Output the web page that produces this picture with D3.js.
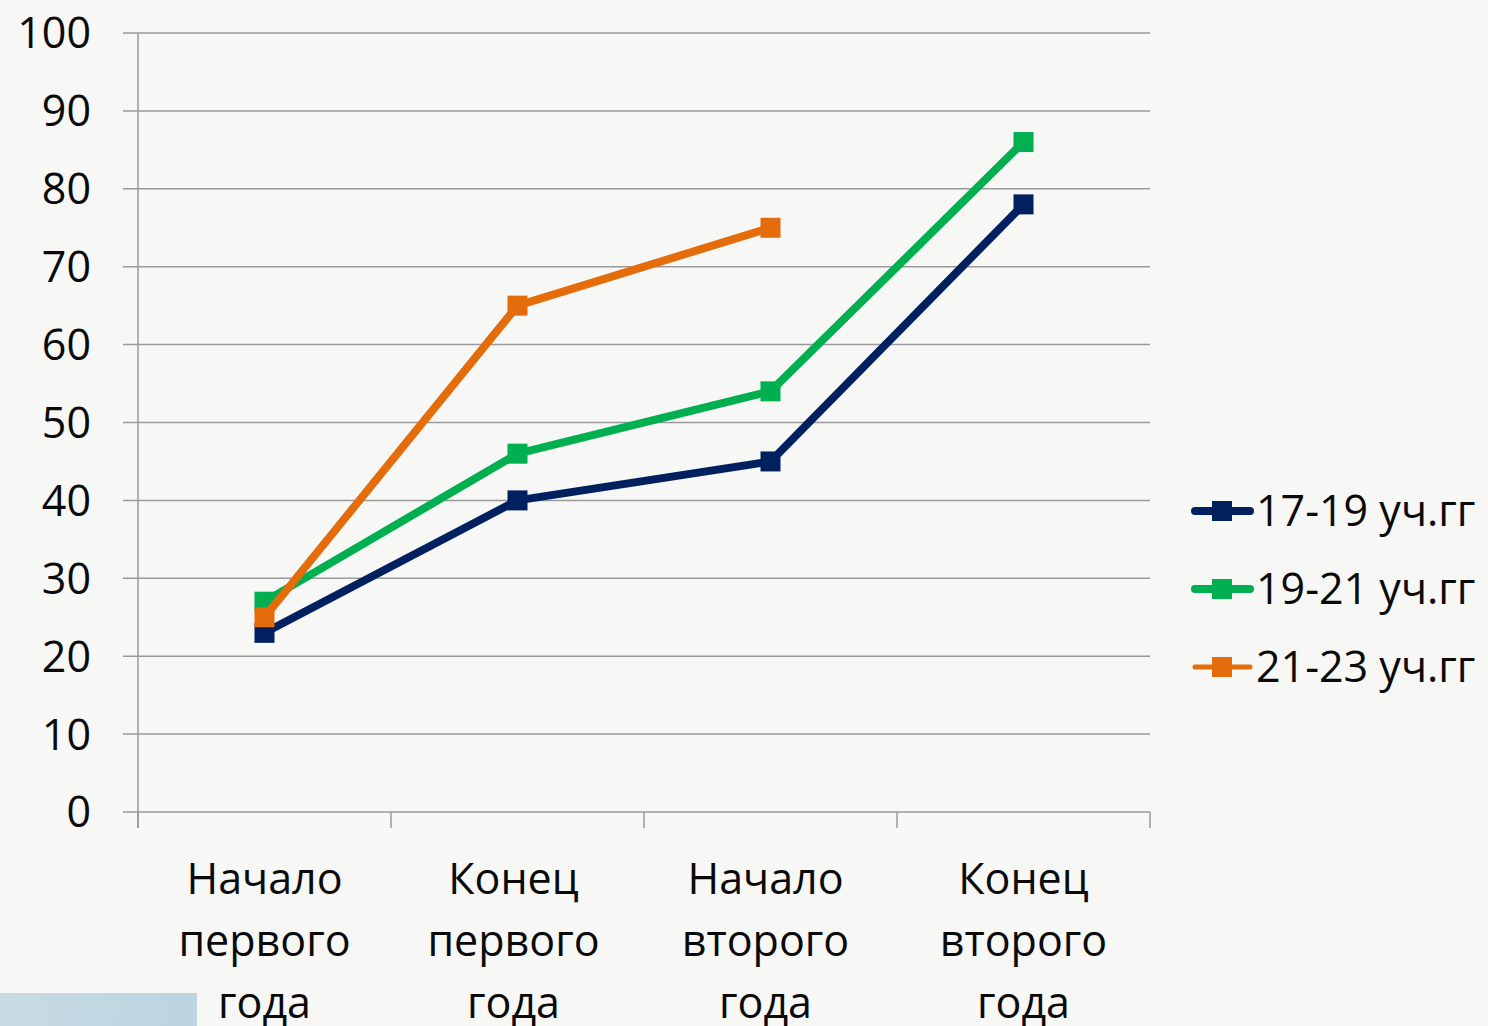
<!DOCTYPE html>
<html><head><meta charset="utf-8">
<script src="https://cdn.jsdelivr.net/npm/d3@7"></script>
<style>
html,body{margin:0;padding:0;background:#f7f7f5;}
svg{display:block;font-family:"Open Sans",sans-serif;}
</style></head>
<body><svg id="c" width="1488" height="1026"></svg>
<script>
const categories = [["Начало","первого","года"],["Конец","первого","года"],["Начало","второго","года"],["Конец","второго","года"]];
const seriesNames = ["17-19 уч.гг","19-21 уч.гг","21-23 уч.гг"];
const s1719 = [23,40,45,78];
const s1921 = [27,46,54,86];
const s2123 = [25,65,75,null];
const yTicks = [0,10,20,30,40,50,60,70,80,90,100];
const colors = ["#002060","#00b050","#e46c0a"];

const svg = d3.select("#c");
svg.append("rect").attr("width",1488).attr("height",1026).attr("fill","#f7f7f5");
const grad = svg.append("defs").append("linearGradient").attr("id","g1");
grad.append("stop").attr("offset","0").attr("stop-color","#c8dbe4");
grad.append("stop").attr("offset","1").attr("stop-color","#bbd4e0");
svg.append("rect").attr("x",0).attr("y",993).attr("width",197).attr("height",33).attr("fill","url(#g1)");

const L=138,R=1150,T=33,B=812;
const x = d3.scaleBand().domain(d3.range(categories.length)).range([L,R]);
const y = d3.scaleLinear().domain([0,100]).range([B,T]);

const grid = svg.append("g");
grid.selectAll("line").data(yTicks).join("line")
  .attr("x1",123).attr("x2",R).attr("y1",d=>y(d)).attr("y2",d=>y(d))
  .attr("stroke","#9a9a9a").attr("stroke-width",1.5);
svg.append("line").attr("x1",L).attr("x2",L).attr("y1",T).attr("y2",828).attr("stroke","#9a9a9a").attr("stroke-width",1.5);
const bounds = d3.range(categories.length+1).map(i=>i<categories.length?x(i):R);
svg.selectAll(".xt").data(bounds).join("line").attr("class","xt")
  .attr("x1",d=>d).attr("x2",d=>d).attr("y1",B).attr("y2",828)
  .attr("stroke","#9a9a9a").attr("stroke-width",1.5);

svg.append("g").selectAll("text").data(yTicks).join("text")
  .attr("x",91).attr("y",d=>y(d)).attr("dy","0.36em").attr("text-anchor","end")
  .attr("font-size",43).attr("fill","#0a0a0a").text(d=>d);

const xl = svg.append("g").selectAll("text").data(categories).join("text")
  .attr("text-anchor","middle").attr("font-size",43).attr("fill","#0a0a0a");
xl.each(function(lines,i){
  d3.select(this).selectAll("tspan").data(lines).join("tspan")
    .attr("x",x(i)+x.bandwidth()/2-(i===1?4:i===2?5:0)).attr("y",(d,j)=>879+62*j).attr("dy","0.36em").text(d=>d);
});

const data = [s1719,s1921,s2123];
const line = d3.line().defined(d=>d!=null).x((d,i)=>x(i)+x.bandwidth()/2).y(d=>y(d));
data.forEach((s,k)=>{
  const g = svg.append("g");
  g.append("path").datum(s).attr("d",line).attr("fill","none")
    .attr("stroke",colors[k]).attr("stroke-width",8).attr("stroke-linejoin","round");
  g.selectAll("rect").data(s.map((v,i)=>({v,i})).filter(d=>d.v!=null)).join("rect")
    .attr("x",d=>x(d.i)+x.bandwidth()/2-10).attr("y",d=>y(d.v)-10)
    .attr("width",20).attr("height",20).attr("fill",colors[k]);
});

const leg = svg.append("g");
seriesNames.forEach((n,k)=>{
  const yy = 511+78*k;
  leg.append("line").attr("x1",1195).attr("x2",1250).attr("y1",yy).attr("y2",yy)
    .attr("stroke",colors[k]).attr("stroke-width",k===2?5:8).attr("stroke-linecap","round");
  leg.append("rect").attr("x",1212).attr("y",yy-10).attr("width",20).attr("height",20).attr("fill",colors[k]);
  leg.append("text").attr("x",1256).attr("y",yy).attr("dy","0.36em").attr("font-size",43).attr("fill","#0a0a0a").text(n);
});
</script></body></html>
